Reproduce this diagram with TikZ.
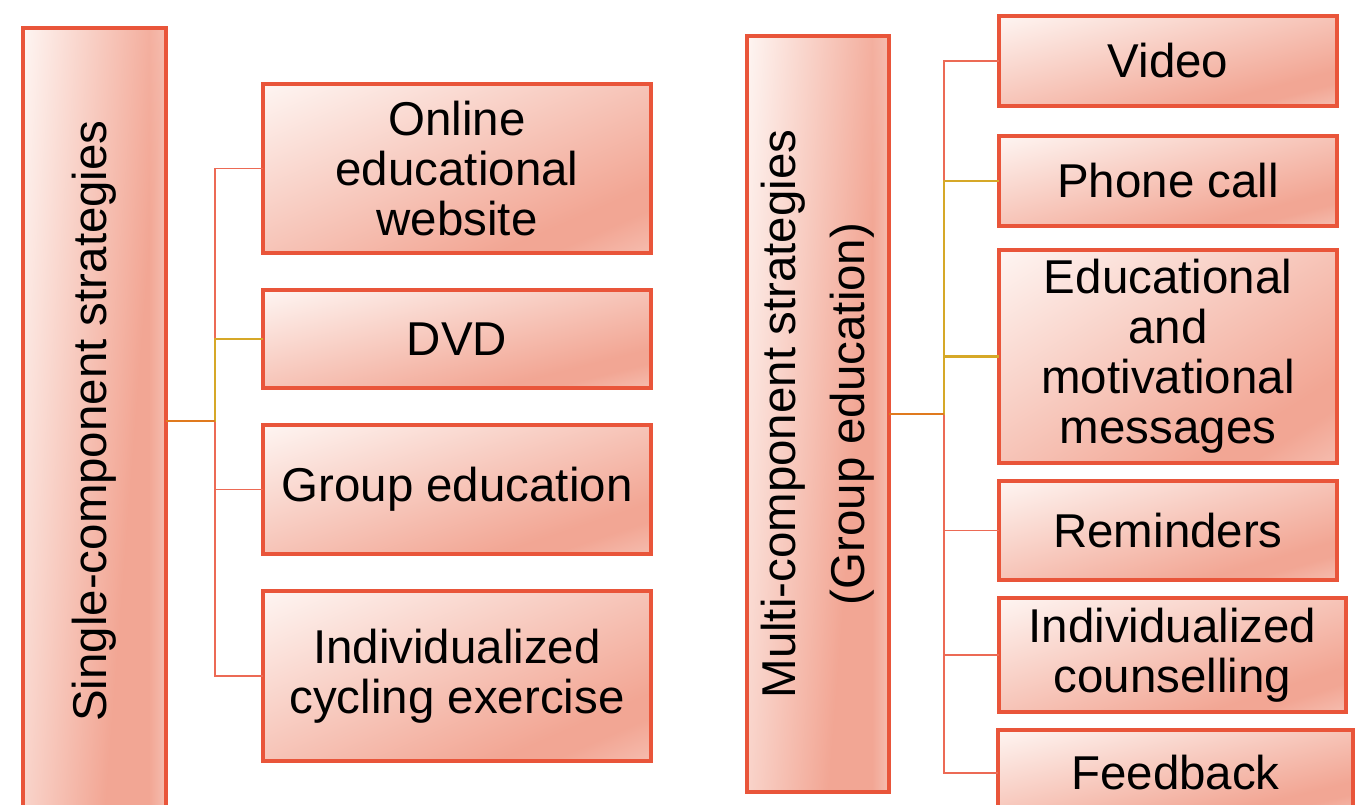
\documentclass[tikz,border=0pt]{standalone}
\usepackage{fontspec}
\setmainfont{Liberation Sans}
\definecolor{boxline}{HTML}{E9553A}
\definecolor{linkred}{HTML}{EC6A55}
\definecolor{linkgold}{HTML}{D6A828}
\definecolor{linkorange}{HTML}{E07A1E}
% Box fill: light blush at the top-left corner, salmon towards the
% bottom-right, slightly paler again at the far corner.
% u = across the box (0..1), v = down the box (0..1).
\pgfdeclarefunctionalshading{wideshade}{\pgfpointorigin}{\pgfpoint{100bp}{100bp}}{}{
  75 exch sub 50 div
  exch 25 sub 50 div
  add 2 div
  dup 0 lt {pop 0} if dup 1 gt {pop 1} if
  dup 0.8 div dup 1 gt {pop 1} if
  exch 0.87 sub dup 0 gt {2.2 mul} {pop 0} ifelse
  sub
  dup 0.047 mul 0.996 exch sub exch
  dup 0.310 mul 0.961 exch sub exch
  0.369 mul 0.949 exch sub
}
% Tall boxes: mainly left-to-right, with a paler strip at the right edge.
\pgfdeclarefunctionalshading{tallshade}{\pgfpointorigin}{\pgfpoint{100bp}{100bp}}{}{
  75 exch sub 50 div
  exch 25 sub 50 div
  dup 3 1 roll
  0.7 mul exch 0.3 mul add
  dup 0 lt {pop 0} if dup 1 gt {pop 1} if
  0.7 div dup 1 gt {pop 1} if
  exch 0.88 sub dup 0 gt {2.5 mul} {pop 0} ifelse
  sub
  dup 0.047 mul 0.996 exch sub exch
  dup 0.310 mul 0.961 exch sub exch
  0.369 mul 0.949 exch sub
}
\begin{document}
\begin{tikzpicture}[x=0.75pt,y=-0.75pt,
  box/.style={draw=boxline, line width=2.5pt, shading=wideshade,
    inner sep=0pt, outer sep=0pt, align=center, text=black,
    font=\fontsize{35.6}{37.5}\selectfont},
  tallbox/.style={box, shading=tallshade},
  link/.style={draw=linkred, line width=1.3pt},
  goldlink/.style={draw=linkgold, line width=1.8pt},
  stub/.style={draw=linkorange, line width=1.8pt}]
\useasboundingbox (0,0) rectangle (1355,805);
\clip (0,0) rectangle (1355,805);

% left tree
\node[tallbox, minimum width=107.25pt, minimum height=589.5pt] (single) at (94.5,421)
  {\rotatebox{90}{Single-component strategies}};
\node[box, minimum width=291pt, minimum height=126.75pt] (online) at (457,168.5)
  {Online\\educational\\website};
\node[box, minimum width=291pt, minimum height=73.5pt] (dvd) at (457,339) {DVD};
\node[box, minimum width=291pt, minimum height=96.75pt] (group) at (457,489.5)
  {\raisebox{-3pt}{Group education}};
\node[box, minimum width=291pt, minimum height=127.5pt] (cycling) at (457,676)
  {Individualized\\cycling exercise};
\coordinate (ltrunk) at (215,0);

\draw[link] (single.east) -- (single.east -| ltrunk) |- (online.west);
\draw[link] (single.east) -- (single.east -| ltrunk) |- (group.west);
\draw[link] (single.east) -- (single.east -| ltrunk) |- (cycling.west);
\draw[goldlink] (single.east) -- (single.east -| ltrunk) |- (dvd.west);
\draw[stub] (single.east) -- (single.east -| ltrunk);

% right tree
\node[tallbox, minimum width=106.5pt, minimum height=567pt] (multi) at (818,414)
  {\rotatebox{90}{\raisebox{-2.6pt}{\parbox{15cm}{\centering\baselineskip=51.5pt Multi-component strategies\\(Group education)}}}};
\node[box, minimum width=253.5pt, minimum height=67.5pt] (video) at (1168,61) {Video};
\node[box, minimum width=253.5pt, minimum height=67.5pt] (phone) at (1168,181) {Phone call};
\node[box, minimum width=253.5pt, minimum height=159.75pt] (edu) at (1168,356.5)
  {\raisebox{-3pt}{\parbox{240pt}{\centering\baselineskip=37.5pt Educational\\and\\motivational\\messages}}};
\node[box, minimum width=253.5pt, minimum height=74.25pt] (remind) at (1168,530.5) {Reminders};
\node[box, minimum width=260.25pt, minimum height=85.5pt] (counsel) at (1172.5,655)
  {Individualized\\counselling};
\node[box, minimum width=266.25pt, minimum height=64.5pt] (feedback) at (1175.5,773) {Feedback};
\coordinate (rtrunk) at (944,0);

\draw[link] (multi.east) -- (multi.east -| rtrunk) |- (video.west);
\draw[link] (multi.east) -- (multi.east -| rtrunk) |- (remind.west);
\draw[link] (multi.east) -- (multi.east -| rtrunk) |- (counsel.west);
\draw[link] (multi.east) -- (multi.east -| rtrunk) |- (feedback.west);
\draw[goldlink] (multi.east) -- (multi.east -| rtrunk) |- (edu.west);
\draw[goldlink] (multi.east) -- (multi.east -| rtrunk) |- (phone.west);
\draw[stub] (multi.east) -- (multi.east -| rtrunk);
\end{tikzpicture}
\end{document}
